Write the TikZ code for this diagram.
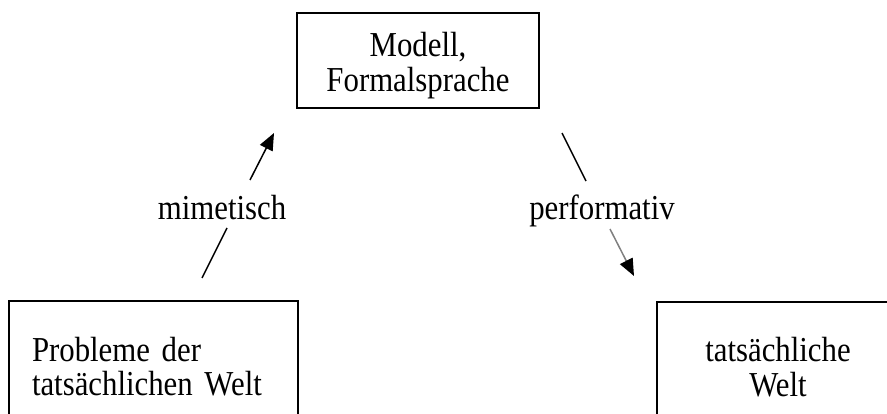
\documentclass[tikz,border=0pt]{standalone}
\usepackage{fontspec}
\setmainfont[FakeStretch=0.88,WordSpace=0.85]{Liberation Serif}
\usetikzlibrary{arrows.meta}
\newcommand{\diagfont}{\fontsize{35}{35}\selectfont\lineskiplimit=-100pt\relax}
\tikzset{
  box/.style={draw=black, line width=1.4pt, inner sep=0pt, align=center, font=\diagfont},
  lbl/.style={inner sep=0pt, anchor=base, font=\diagfont},
  conn/.style={line width=1.5pt},
  tip/.style={-{Triangle[length=17pt,width=14pt,color=black]}}
}
\begin{document}
\begin{tikzpicture}[x=1pt,y=-1pt]
\useasboundingbox (0,0) rectangle (887,414);
\clip (0,0) rectangle (887,414);
\node[box, minimum width=242pt, minimum height=95pt] (model) at (418,60.5)
  {\rule{0pt}{36pt}Modell,\\Formalsprache\rule[-8pt]{0pt}{8pt}};
\node[box, minimum width=289pt, minimum height=120pt, text width=243pt, align=left] (probs) at (153.5,361)
  {\rule{0pt}{43pt}Probleme der\\tatsächlichen Welt\rule[-8pt]{0pt}{8pt}};
\node[box, minimum width=242pt, minimum height=120pt] (welt) at (778,362)
  {\rule{0pt}{41pt}tatsächliche\\Welt\rule[-8pt]{0pt}{8pt}};
\node[lbl] (mim) at (222,220) {mimetisch};
\node[lbl] (perf) at (602,220) {performativ};
\coordinate (m1) at (202,278);
\coordinate (m2) at (227,228);
\coordinate (m3) at (250,180);
\coordinate (m4) at (274,133);
\coordinate (p1) at (562,133);
\coordinate (p2) at (586,181);
\coordinate (p3) at (610,229);
\coordinate (p4) at (634,276);
\draw[conn] (m1) -- (m2);
\draw[conn, tip] (m3) -- (m4);
\draw[conn] (p1) -- (p2);
\draw[conn, tip, draw=gray] (p3) -- (p4);
\end{tikzpicture}
\end{document}
